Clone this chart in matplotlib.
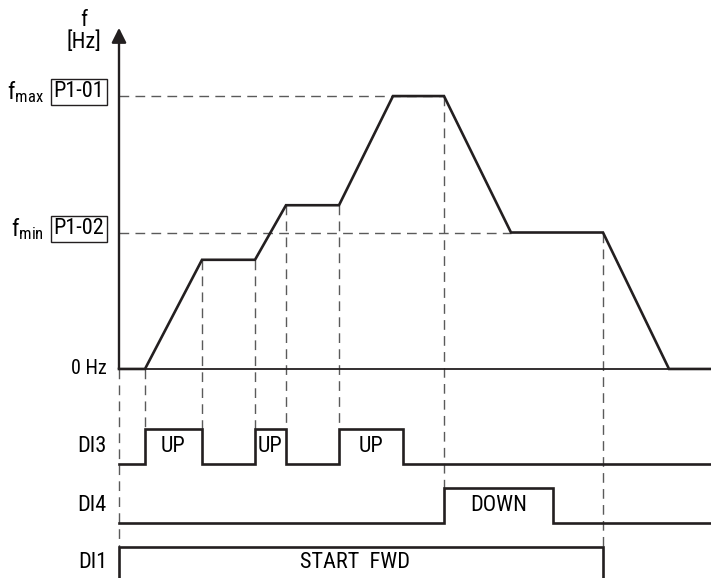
import numpy as np
import matplotlib
matplotlib.use('Agg')
import matplotlib.pyplot as plt

# time axis (arbitrary units), frequency in % of fmax
t_freq = [0, 2.6, 8.3, 13.6, 16.7, 22.0, 27.4, 32.5, 39.2, 48.4, 55.0, 59.2]
f_freq = [0, 0, 40, 40, 60, 60, 100, 100, 50, 50, 0, 0]
f_max = 100
f_min = 50

up_pulses = [(2.6, 8.3), (13.6, 16.7), (22.0, 28.4)]
down_pulse = (32.5, 43.4)
start_fwd = (0, 48.4)
t_end = 59.2

# layout of the signal tracks (in the same vertical units)
di3_lo, di3_hi = -34.8, -22.0
di4_lo, di4_hi = -56.4, -43.6
di1_hi = -65.2
y_bottom = -76.6
y_top = 135.2
x_left = -11.9

ink = '#231f20'
dash_c = '#5a5a5a'
plt.rcParams['font.family'] = ['Roboto Condensed', 'DejaVu Sans']
plt.rcParams['mathtext.fontset'] = 'custom'
plt.rcParams['mathtext.rm'] = 'Roboto Condensed'
fs = 16

fig = plt.figure(figsize=(7.11, 5.78), dpi=100)
ax = fig.add_axes([0, 0, 1, 1])
ax.set_xlim(x_left, t_end)
ax.set_ylim(y_bottom, y_top)
ax.axis('off')

dash = dict(color=dash_c, lw=1.0, dashes=(7, 4.5))

# reference lines for fmax / fmin
ax.plot([0, t_freq[7]], [f_max, f_max], **dash)
ax.plot([0, t_freq[8]], [f_min, f_min], **dash)

# vertical dashed guides
ax.plot([0, 0], [0, di1_hi], **dash)
ax.plot([t_freq[1]] * 2, [0, di3_hi], **dash)
ax.plot([t_freq[2]] * 2, [f_freq[2], di3_hi], **dash)
ax.plot([t_freq[3]] * 2, [f_freq[3], di3_hi], **dash)
ax.plot([t_freq[4]] * 2, [f_freq[4], di3_hi], **dash)
ax.plot([t_freq[5]] * 2, [f_freq[5], di3_hi], **dash)
ax.plot([t_freq[7]] * 2, [f_freq[7], di4_hi], **dash)
ax.plot([t_freq[9]] * 2, [f_freq[9], di1_hi], **dash)

# 0 Hz baseline and frequency curve
ax.plot([0, t_end], [0, 0], color=ink, lw=1.3)
ax.plot(t_freq, f_freq, color=ink, lw=1.9, solid_joinstyle='miter')

# f axis with arrow
ax.annotate('', xy=(0, 125), xytext=(0, 0),
            arrowprops=dict(arrowstyle='-|>', color=ink, lw=1.7,
                            mutation_scale=22, shrinkA=0, shrinkB=0))
ax.text(-3.5, 127.8, 'f', ha='center', va='center', fontsize=fs)
ax.text(-3.5, 119.8, '[Hz]', ha='center', va='center', fontsize=fs)


def pulse_line(pulses, lo, hi):
    xs, ys = [0], [lo]
    for a, b in pulses:
        xs += [a, a, b, b]
        ys += [lo, hi, hi, lo]
    xs.append(t_end)
    ys.append(lo)
    return xs, ys


xs, ys = pulse_line(up_pulses, di3_lo, di3_hi)
ax.plot(xs, ys, color=ink, lw=1.9, solid_joinstyle='miter')
for a, b in up_pulses:
    ax.text((a + b) / 2, (di3_lo + di3_hi) / 2, 'UP', ha='center', va='center', fontsize=fs)

xs, ys = pulse_line([down_pulse], di4_lo, di4_hi)
ax.plot(xs, ys, color=ink, lw=1.9, solid_joinstyle='miter')
ax.text(sum(down_pulse) / 2, (di4_lo + di4_hi) / 2, 'DOWN', ha='center', va='center', fontsize=fs)

ax.plot([start_fwd[0], start_fwd[0], start_fwd[1], start_fwd[1]],
        [y_bottom, di1_hi, di1_hi, y_bottom], color=ink, lw=1.9, solid_joinstyle='miter')
ax.text(sum(start_fwd) / 2 - 0.6, (di1_hi + y_bottom) / 2, 'START  FWD', ha='center', va='center', fontsize=fs)

# left labels
lx = -1.2
ax.text(lx, 0, '0 Hz', ha='right', va='center', fontsize=fs - 1.5)
ax.text(lx, (di3_lo + di3_hi) / 2, 'DI3', ha='right', va='center', fontsize=fs)
ax.text(lx, (di4_lo + di4_hi) / 2, 'DI4', ha='right', va='center', fontsize=fs)
ax.text(lx, (di1_hi + y_bottom) / 2, 'DI1', ha='right', va='center', fontsize=fs)

box = dict(boxstyle='square,pad=0.12', fc='white', ec=ink, lw=1.0)
ax.text(-4.0, f_max + 1.5, 'P1-01', ha='center', va='center', fontsize=fs, bbox=box)
ax.text(-4.0, f_min + 1.3, 'P1-02', ha='center', va='center', fontsize=fs, bbox=box)
ax.text(-7.5, f_max + 1.5, r'$\mathrm{f_{max}}$', ha='right', va='center', fontsize=fs + 1)
ax.text(-7.5, f_min + 1.3, r'$\mathrm{f_{min}}$', ha='right', va='center', fontsize=fs + 1)

fig.savefig('out.png', dpi=100)
